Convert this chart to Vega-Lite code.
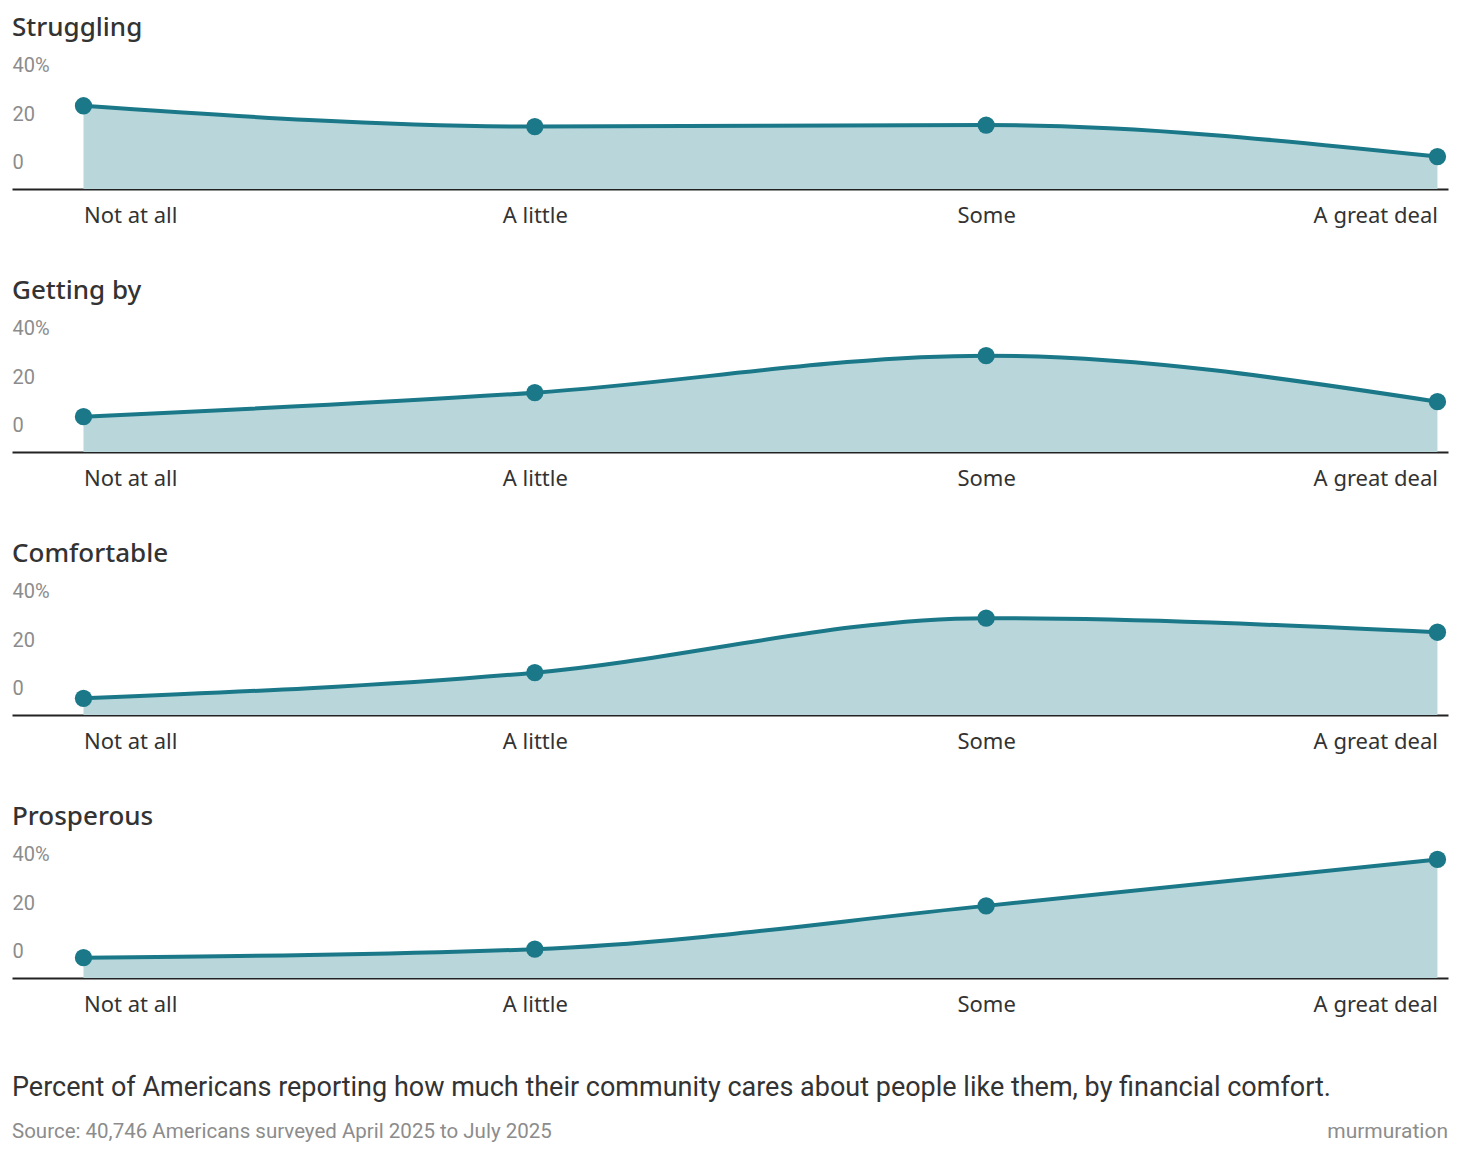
{
  "$schema": "https://vega.github.io/schema/vega-lite/v6.json",
  "background": "white",
  "padding": {"left": 12, "right": 12, "top": 14, "bottom": 4},
  "data": {
    "values": [
      {"group": "Struggling", "level": "Not at all", "rank": 0, "pct": 34.4},
      {"group": "Struggling", "level": "A little", "rank": 1, "pct": 25.8},
      {"group": "Struggling", "level": "Some", "rank": 2, "pct": 26.4},
      {"group": "Struggling", "level": "A great deal", "rank": 3, "pct": 13.4},
      {"group": "Getting by", "level": "Not at all", "rank": 0, "pct": 14.6},
      {"group": "Getting by", "level": "A little", "rank": 1, "pct": 24.5},
      {"group": "Getting by", "level": "Some", "rank": 2, "pct": 39.8},
      {"group": "Getting by", "level": "A great deal", "rank": 3, "pct": 20.8},
      {"group": "Comfortable", "level": "Not at all", "rank": 0, "pct": 6.9},
      {"group": "Comfortable", "level": "A little", "rank": 1, "pct": 17.5},
      {"group": "Comfortable", "level": "Some", "rank": 2, "pct": 40.0},
      {"group": "Comfortable", "level": "A great deal", "rank": 3, "pct": 34.2},
      {"group": "Prosperous", "level": "Not at all", "rank": 0, "pct": 8.4},
      {"group": "Prosperous", "level": "A little", "rank": 1, "pct": 11.9},
      {"group": "Prosperous", "level": "Some", "rank": 2, "pct": 29.8},
      {"group": "Prosperous", "level": "A great deal", "rank": 3, "pct": 49.0}
    ]
  },
  "title": {
    "text": "murmuration",
    "orient": "bottom",
    "anchor": "end",
    "offset": -21,
    "font": "Roboto",
    "fontSize": 21,
    "fontWeight": "normal",
    "color": "#8c8c8c"
  },
  "vconcat": [
    {
      "title": {
        "text": "Percent of Americans reporting how much their community cares about people like them, by financial comfort.",
        "subtitle": "Source: 40,746 Americans surveyed April 2025 to July 2025",
        "orient": "bottom",
        "anchor": "start",
        "offset": 59,
        "font": "Roboto",
        "fontSize": 27,
        "fontWeight": "normal",
        "color": "#333333",
        "subtitleFont": "Roboto",
        "subtitleFontSize": 20.5,
        "subtitleColor": "#8c8c8c",
        "subtitlePadding": 20
      },
      "spacing": 50,
      "vconcat": [
        {
          "title": "Struggling",
          "width": 1436, "height": 121,
          "transform": [{"filter": "datum.group === 'Struggling'"}],
          "encoding": {
            "x": {"field": "rank", "type": "quantitative", "scale": {"domain": [-0.1584, 3.0234], "nice": false, "zero": false}, "axis": {"values": [0, 1, 2, 3]}},
            "y": {"field": "pct", "type": "quantitative", "scale": {"domain": [0, 50], "nice": false}, "axis": {"values": [0, 20, 40]}}
          },
          "layer": [
            {"mark": {"type": "area", "interpolate": "monotone", "color": "#b9d7db"}},
            {"mark": {"type": "line", "interpolate": "monotone", "color": "#1a7888", "strokeWidth": 4}},
            {"mark": {"type": "point", "filled": true, "opacity": 1, "size": 300, "color": "#1a7888"}}
          ]
        },
        {
          "title": "Getting by",
          "width": 1436, "height": 121,
          "transform": [{"filter": "datum.group === 'Getting by'"}],
          "encoding": {
            "x": {"field": "rank", "type": "quantitative", "scale": {"domain": [-0.1584, 3.0234], "nice": false, "zero": false}, "axis": {"values": [0, 1, 2, 3]}},
            "y": {"field": "pct", "type": "quantitative", "scale": {"domain": [0, 50], "nice": false}, "axis": {"values": [0, 20, 40]}}
          },
          "layer": [
            {"mark": {"type": "area", "interpolate": "monotone", "color": "#b9d7db"}},
            {"mark": {"type": "line", "interpolate": "monotone", "color": "#1a7888", "strokeWidth": 4}},
            {"mark": {"type": "point", "filled": true, "opacity": 1, "size": 300, "color": "#1a7888"}}
          ]
        },
        {
          "title": "Comfortable",
          "width": 1436, "height": 121,
          "transform": [{"filter": "datum.group === 'Comfortable'"}],
          "encoding": {
            "x": {"field": "rank", "type": "quantitative", "scale": {"domain": [-0.1584, 3.0234], "nice": false, "zero": false}, "axis": {"values": [0, 1, 2, 3]}},
            "y": {"field": "pct", "type": "quantitative", "scale": {"domain": [0, 50], "nice": false}, "axis": {"values": [0, 20, 40]}}
          },
          "layer": [
            {"mark": {"type": "area", "interpolate": "monotone", "color": "#b9d7db"}},
            {"mark": {"type": "line", "interpolate": "monotone", "color": "#1a7888", "strokeWidth": 4}},
            {"mark": {"type": "point", "filled": true, "opacity": 1, "size": 300, "color": "#1a7888"}}
          ]
        },
        {
          "title": "Prosperous",
          "width": 1436, "height": 121,
          "transform": [{"filter": "datum.group === 'Prosperous'"}],
          "encoding": {
            "x": {"field": "rank", "type": "quantitative", "scale": {"domain": [-0.1584, 3.0234], "nice": false, "zero": false}, "axis": {"values": [0, 1, 2, 3]}},
            "y": {"field": "pct", "type": "quantitative", "scale": {"domain": [0, 50], "nice": false}, "axis": {"values": [0, 20, 40]}}
          },
          "layer": [
            {"mark": {"type": "area", "interpolate": "monotone", "color": "#b9d7db"}},
            {"mark": {"type": "line", "interpolate": "monotone", "color": "#1a7888", "strokeWidth": 4}},
            {"mark": {"type": "point", "filled": true, "opacity": 1, "size": 300, "color": "#1a7888"}}
          ]
        }
      ]
    }
  ],
  "config": {
    "view": {"stroke": null},
    "title": {
      "anchor": "start",
      "font": "Noto Sans",
      "fontSize": 26,
      "fontWeight": 500,
      "color": "#333333",
      "offset": 15
    },
    "axisX": {
      "labelExpr": "['Not at all', 'A little', 'Some', 'A great deal'][datum.value]",
      "labelAlign": {"expr": "datum.value == 0 ? 'left' : datum.value == 3 ? 'right' : 'center'"},
      "labelFont": "Noto Sans",
      "labelFontSize": 22,
      "labelColor": "#333333",
      "labelPadding": 16.5,
      "labelFlush": false,
      "labelOverlap": false,
      "domainColor": "#222222",
      "domainWidth": 2,
      "ticks": false,
      "tickSize": 0,
      "grid": false,
      "title": null
    },
    "axisY": {
      "labelExpr": "datum.value == 40 ? '40%' : datum.label",
      "labelAlign": "left",
      "labelBaseline": "middle",
      "labelOffset": -26.5,
      "labelPadding": 0,
      "labelFont": "Roboto",
      "labelFontSize": 20,
      "labelColor": "#8c8c8c",
      "labelFlush": false,
      "labelOverlap": false,
      "domain": false,
      "ticks": false,
      "tickSize": 0,
      "grid": false,
      "title": null
    }
  }
}
